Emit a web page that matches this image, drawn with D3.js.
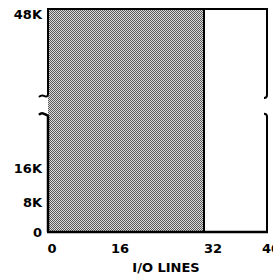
<!DOCTYPE html>
<html>
<head>
<meta charset="utf-8">
<script src="https://cdn.jsdelivr.net/npm/d3@7"></script>
<style>
  body { margin: 0; background: #fff; }
  text { font-family: "DejaVu Sans", sans-serif; font-weight: bold; font-size: 13px; fill: #000; }
</style>
</head>
<body>
<svg id="chart" width="273" height="278"></svg>
<script>
// data
const xTicks = [0, 16, 32, 40];
const yTicks = [0, 8, 16, 48];
const yLabels = ["0", "8K", "16K", "48K"];
const shaded = { x0: 0, x1: 32, y0: 0, y1: 48 };   // I/O lines 0-32, memory 0-48K
const frame = { x0: 0, x1: 40, y0: 0, y1: 48 };
const axisBreak = [26.5, 30.5];                    // memory axis is broken here

const svg = d3.select("#chart");

// schematic axes: piecewise scales
const x = d3.scaleLinear().domain(xTicks).range([48, 116, 204, 267]);
const y = d3.scaleLinear().domain(yTicks).range([232, 202, 168, 9]);

// halftone pattern for the shaded block
const pat = svg.append("defs").append("pattern")
    .attr("id", "dots")
    .attr("width", 2).attr("height", 2)
    .attr("patternUnits", "userSpaceOnUse");
pat.append("rect").attr("width", 2).attr("height", 2).attr("fill", "#dcdcdc");
pat.append("rect").attr("width", 1).attr("height", 1).attr("fill", "#5a5a5a");
pat.append("rect").attr("x", 1).attr("y", 1).attr("width", 1).attr("height", 1).attr("fill", "#5a5a5a");

svg.append("rect")
    .attr("x", x(shaded.x0))
    .attr("y", y(shaded.y1))
    .attr("width", x(shaded.x1) - x(shaded.x0))
    .attr("height", y(shaded.y0) - y(shaded.y1))
    .attr("fill", "url(#dots)");

const lines = svg.append("g")
    .attr("fill", "none")
    .attr("stroke", "#000")
    .attr("stroke-width", 2);

const bTop = y(axisBreak[1]), bBot = y(axisBreak[0]);

// top, bottom and the divider at 32 lines
lines.append("path").attr("d", `M${x(frame.x0) - 1},${y(frame.y1)}H${x(frame.x1) + 1}`);
lines.append("path").attr("d", `M${x(frame.x0) - 1},${y(frame.y0)}H${x(frame.x1) + 1}`).attr("stroke-width", 2.5);
lines.append("path").attr("d", `M${x(shaded.x1)},${y(shaded.y1)}V${y(shaded.y0)}`);

// left axis with break squiggles
const xl = x(frame.x0);
lines.append("path").attr("d",
    `M${xl},${y(frame.y1)}V${bTop - 2} c0,3 -2,3 -4,2 s-3,-1 -5,1`);
lines.append("path").attr("d",
    `M${xl - 9},${bBot - 1} c2,-2 3,-2 5,-1 s4,1 4,3 V${y(frame.y0)}`).attr("stroke-width", 2.5);

// right edge with hooks
const xr = x(frame.x1);
lines.append("path").attr("d",
    `M${xr},${y(frame.y1)}V${bTop - 1} c0,2 -1,3 -3,3`);
lines.append("path").attr("d",
    `M${xr - 3},${bBot - 2} c2,0 3,1 3,3 V${y(frame.y0)}`);

// tick labels
svg.append("g").selectAll("text")
    .data(yTicks)
    .join("text")
    .attr("x", 42)
    .attr("y", (d, i) => Math.max(y(d), 14))
    .attr("dy", "0.36em")
    .attr("text-anchor", "end")
    .text((d, i) => yLabels[i]);

svg.append("g").selectAll("text")
    .data(xTicks)
    .join("text")
    .attr("x", d => x(d) + (d === 32 ? 9 : 4))
    .attr("y", 253)
    .attr("text-anchor", "middle")
    .text(d => d);

svg.append("text")
    .attr("x", 166)
    .attr("y", 272)
    .attr("text-anchor", "middle")
    .text("I/O LINES");
</script>
</body>
</html>
